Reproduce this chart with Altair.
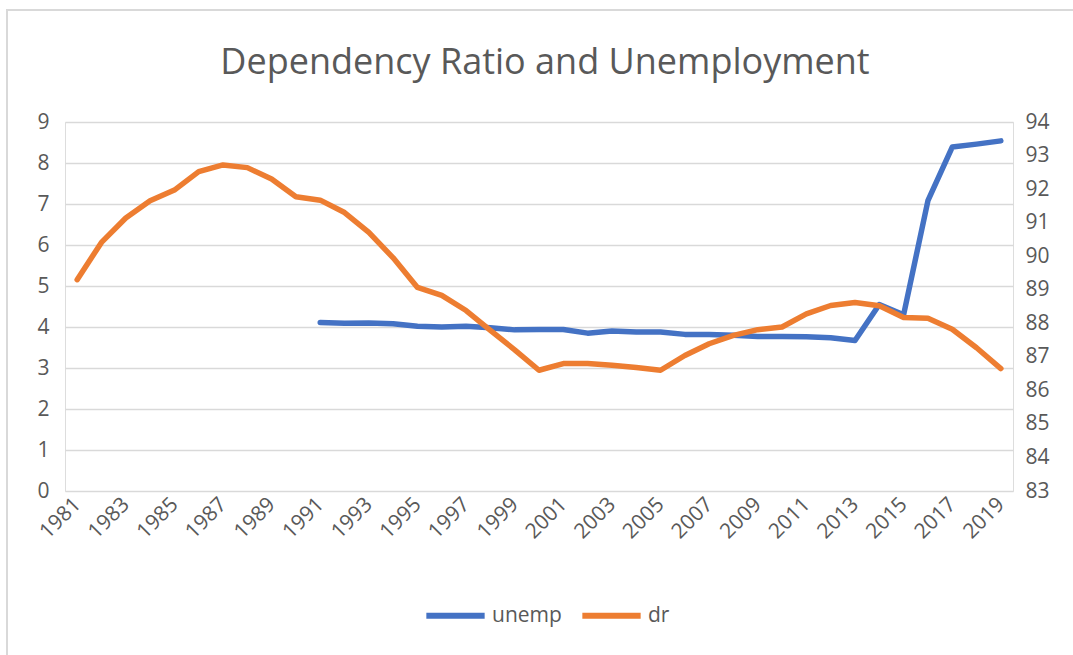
import altair as alt
import pandas as pd

years = list(range(1981, 2020))
unemp = [None, None, None, None, None, None, None, None, None, None,
         4.11, 4.09, 4.10, 4.08, 4.02, 4.00, 4.02, 3.98, 3.93, 3.94,
         3.94, 3.85, 3.90, 3.88, 3.88, 3.82, 3.82, 3.80, 3.77, 3.77,
         3.76, 3.74, 3.67, 4.55, 4.30, 7.08, 8.39, 8.46, 8.54]
dr = [89.30, 90.41, 91.14, 91.65, 91.97, 92.52, 92.72, 92.64, 92.30, 91.77,
      91.67, 91.30, 90.71, 89.95, 89.07, 88.83, 88.38, 87.79, 87.21, 86.60,
      86.80, 86.80, 86.75, 86.68, 86.60, 87.04, 87.39, 87.64, 87.81, 87.89,
      88.28, 88.53, 88.62, 88.52, 88.17, 88.15, 87.82, 87.27, 86.65]
series_names = ["unemp", "dr"]
series_colors = ["#4472C4", "#ED7D31"]
left_ticks = list(range(0, 10))
right_ticks = list(range(83, 95))
x_ticks = list(range(1981, 2020, 2))
title_text = "Dependency Ratio and Unemployment"

df = pd.DataFrame({"year": years, "unemp": unemp, "dr": dr})

FONT = "Open Sans"
GREY = "#595959"
LS = 21

xenc = alt.X(
    "year:Q",
    scale=alt.Scale(domain=[1980.5, 2019.5], nice=False, zero=False),
    axis=alt.Axis(values=x_ticks, format="d", labelAngle=-45, labelAlign="right",
                  labelBaseline="middle", grid=False, domain=False, ticks=False,
                  labelPadding=10, labelFontSize=LS, labelColor=GREY, labelFont=FONT,
                  title=None, labelFlush=False, labelOverlap=False),
)

color_scale = alt.Scale(domain=series_names, range=series_colors)
legend = alt.Legend(title=None, orient="none", legendX=358, legendY=461,
                    direction="horizontal", symbolType="stroke",
                    symbolStrokeWidth=6, symbolSize=3400,
                    labelFontSize=LS, labelColor=GREY, labelFont=FONT,
                    columnPadding=8, labelOffset=4)

line_unemp = alt.Chart(df).transform_filter("datum.unemp != null").transform_calculate(
    series="'unemp'"
).mark_line(strokeWidth=5.5, strokeCap="round", strokeJoin="round").encode(
    x=xenc,
    y=alt.Y("unemp:Q", scale=alt.Scale(domain=[0, 9], nice=False),
            axis=alt.Axis(values=left_ticks, orient="left", grid=True, gridColor="#d9d9d9",
                          gridWidth=1.5, domain=False, ticks=False, labelPadding=16,
                          labelFontSize=LS, labelColor=GREY, labelFont=FONT, title=None)),
    color=alt.Color("series:N", scale=color_scale, legend=legend),
)

line_dr = alt.Chart(df).transform_calculate(
    series="'dr'"
).mark_line(strokeWidth=5.5, strokeCap="round", strokeJoin="round").encode(
    x=xenc,
    y=alt.Y("dr:Q", scale=alt.Scale(domain=[83, 94], nice=False, zero=False),
            axis=alt.Axis(values=right_ticks, orient="right", grid=False, domain=False,
                          ticks=False, labelPadding=12, labelFontSize=LS, labelColor=GREY,
                          labelFont=FONT, title=None)),
    color=alt.Color("series:N", scale=color_scale, legend=legend),
)

border = alt.Chart(df).mark_rect(filled=False, stroke="#d9d9d9", strokeWidth=1.5, clip=False).encode(
    x=alt.value(-58), x2=alt.value(1100), y=alt.value(-112), y2=alt.value(700)
)

title = alt.Chart(df).transform_filter("datum.year == 1981").mark_text(
    font=FONT, fontSize=36, color=GREY, align="center", baseline="alphabetic"
).encode(x=alt.value(480), y=alt.value(-48), text=alt.value(title_text))

chart = alt.layer(border, line_unemp, line_dr, title).resolve_scale(y="independent").properties(
    width=948, height=369,
    autosize=alt.AutoSizeParams(type="none"),
    padding={"left": 65, "top": 122, "right": 60, "bottom": 164},
).configure_view(stroke=None).configure(background="white")

chart.save("out.html", embed_options={"renderer": "svg", "actions": False})
